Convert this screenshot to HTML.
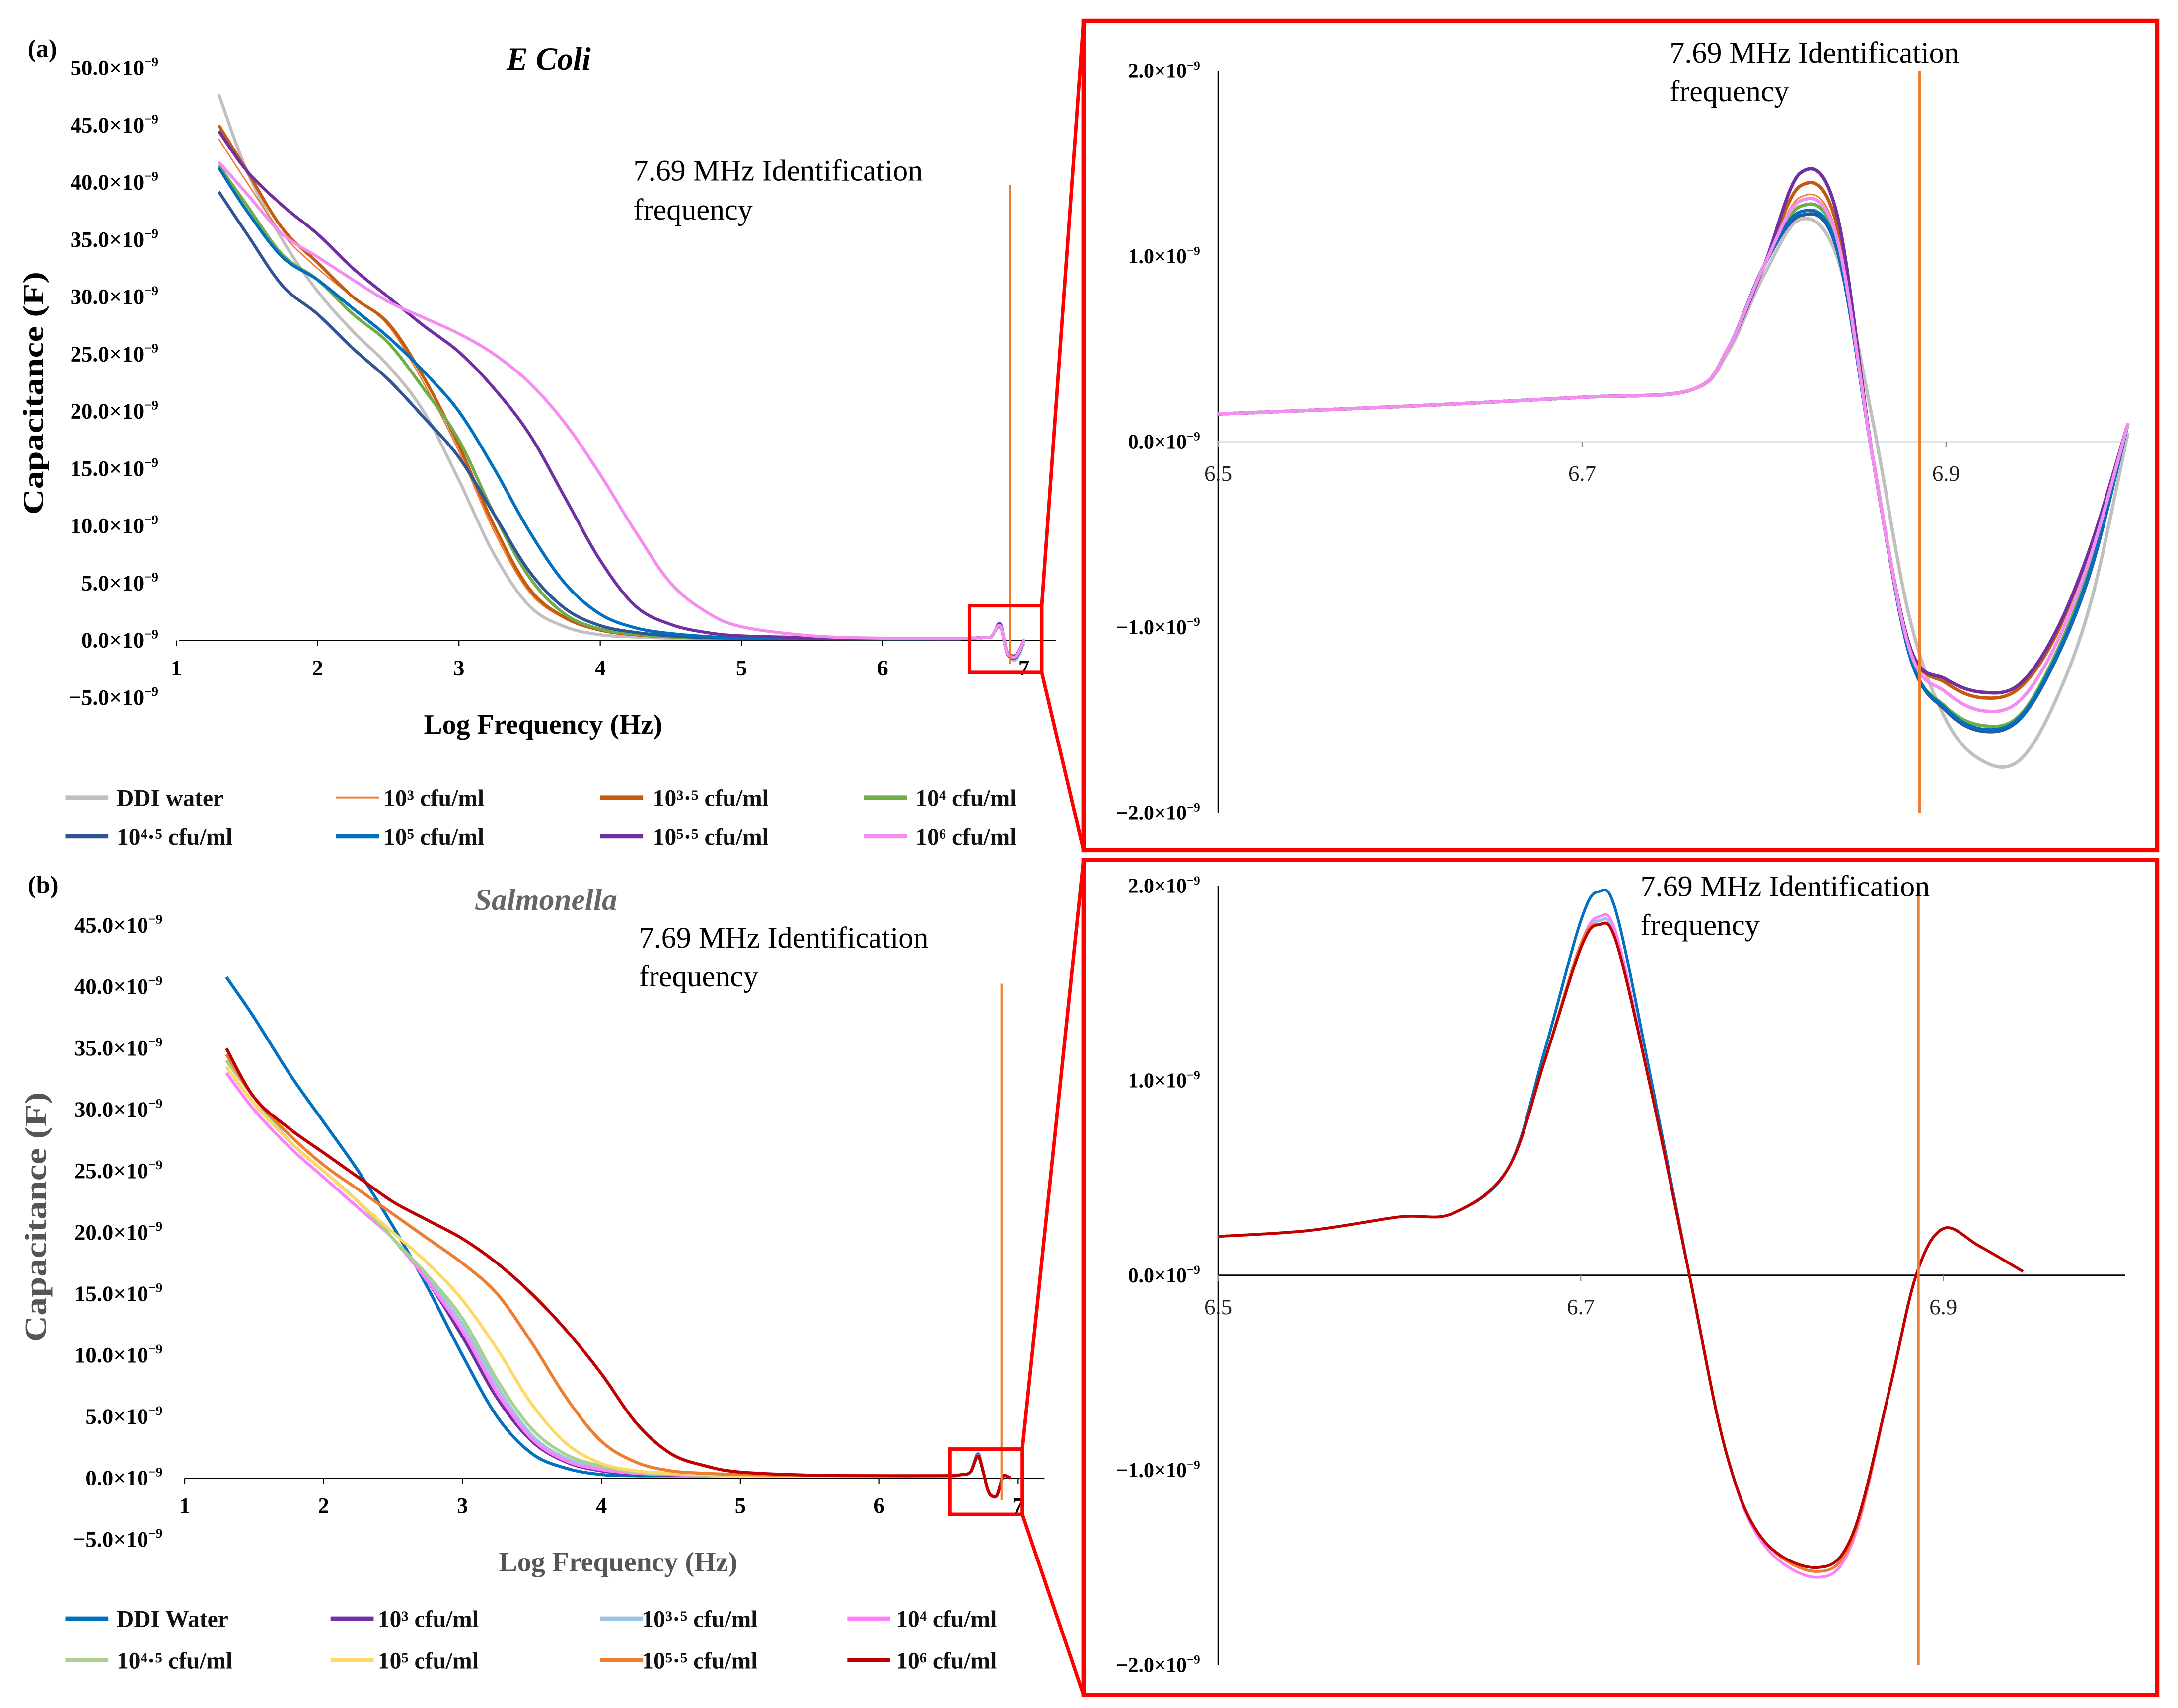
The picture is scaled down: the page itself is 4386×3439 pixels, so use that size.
<!DOCTYPE html>
<html><head><meta charset="utf-8"><style>
html,body{margin:0;padding:0;background:#fff}
svg{display:block}
text{font-family:"Liberation Serif",serif}
</style></head><body>
<svg id="fig" width="4386" height="3439" viewBox="0 0 1568 1229.4" preserveAspectRatio="none" xmlns="http://www.w3.org/2000/svg">
<g id="root"></g>
</svg>
<script>
// ---------- DATA ----------
const xsA = [1.3,1.5,1.75,2,2.25,2.5,2.75,3,3.25,3.5,3.75,4,4.25,4.5,4.75,5,5.5,6,6.5,6.6,6.7,6.76,6.78,6.8,6.82,6.84,6.86,6.88,6.9,6.92,6.94,6.96,6.98,7.0];
const ecoliNames = ["DDI water","10³ cfu/ml","10³·⁵ cfu/ml","10⁴ cfu/ml","10⁴·⁵ cfu/ml","10⁵ cfu/ml","10⁵·⁵ cfu/ml","10⁶ cfu/ml"];
const ecoliDDI   = [47.7,41,35,30.5,27,24,20,14,7.5,3,1.2,0.5,0.3,0.2,0.17,0.15,0.15,0.15,0.15,0.19,0.24,0.28,0.48,0.9,1.2,1.0,0.1,-0.95,-1.5,-1.72,-1.72,-1.4,-0.85,0.05];
const ecoli3     = [43.8,40,35.5,32.5,30,27.5,22.5,16.5,9.5,4.2,1.9,0.9,0.5,0.3,0.2,0.18,0.16,0.15,0.15,0.19,0.24,0.28,0.5,0.95,1.32,1.12,-0.1,-1.1,-1.3,-1.38,-1.33,-1.05,-0.55,0.1];
const ecoli35    = [45,41,36,33,30,27.7,23,17,10,4.5,2,0.9,0.5,0.3,0.2,0.18,0.16,0.15,0.15,0.19,0.24,0.28,0.5,0.95,1.38,1.17,-0.1,-1.1,-1.3,-1.38,-1.33,-1.05,-0.55,0.1];
const ecoli4     = [41.5,38,33.7,31.5,28.5,26,22,17.5,11,5.5,2.3,1.0,0.55,0.3,0.2,0.18,0.16,0.15,0.15,0.19,0.24,0.28,0.5,0.95,1.27,1.08,-0.1,-1.15,-1.43,-1.53,-1.48,-1.15,-0.65,0.1];
const ecoli45    = [39.2,35.5,31,28.5,25.5,22.8,19.5,16,11,6,2.8,1.3,0.7,0.4,0.25,0.2,0.16,0.15,0.15,0.19,0.24,0.28,0.5,0.95,1.22,1.04,-0.1,-1.15,-1.45,-1.56,-1.5,-1.18,-0.68,0.1];
const ecoli5     = [41.3,37.5,33.5,31.5,29,26.5,23.5,20,15,9.5,5,2.3,1.1,0.6,0.35,0.2,0.16,0.15,0.15,0.19,0.24,0.28,0.5,0.95,1.24,1.05,-0.1,-1.15,-1.44,-1.55,-1.49,-1.17,-0.67,0.1];
const ecoli55    = [44.5,41,38,35.5,32.5,30,27.5,25.2,22,18,12.5,7,3,1.4,0.7,0.4,0.25,0.18,0.15,0.19,0.24,0.28,0.5,0.95,1.45,1.23,-0.1,-1.1,-1.28,-1.35,-1.31,-1.03,-0.55,0.1];
const ecoli6     = [41.8,39,35.5,33.5,31.5,29.6,28.2,26.8,25,22.5,19,14.5,9.5,5,2.5,1.2,0.4,0.2,0.15,0.19,0.24,0.28,0.5,0.95,1.3,1.1,-0.1,-1.12,-1.35,-1.45,-1.4,-1.1,-0.6,0.1];
const ecoliSeries = [ecoliDDI,ecoli3,ecoli35,ecoli4,ecoli45,ecoli5,ecoli55,ecoli6];
const ecoliColors = ["#c0c0c0","#ed7d31","#c55a11","#70ad47","#2f5597","#0070c0","#7030a0","#f58cf0"];
const ecoliWidths = [2.2,1,2.2,2.2,2.2,2.2,2.2,2.2];

const xsB = [1.3,1.5,1.75,2,2.25,2.5,2.75,3,3.25,3.5,3.75,4,4.25,4.5,4.75,5,5.5,6,6.5,6.55,6.6,6.63,6.66,6.68,6.7,6.71,6.72,6.74,6.76,6.78,6.8,6.83,6.85,6.87,6.885,6.9,6.92,6.944];
const salNames = ["DDI Water","10³ cfu/ml","10³·⁵ cfu/ml","10⁴ cfu/ml","10⁴·⁵ cfu/ml","10⁵ cfu/ml","10⁵·⁵ cfu/ml","10⁶ cfu/ml"];
const salDDI = [40.8,37.5,33,29,25,20.5,15.5,10,5,2,0.8,0.3,0.2,0.2,0.2,0.2,0.2,0.2,0.2,0.23,0.3,0.32,0.55,1.15,1.82,1.97,1.85,0.95,0,-0.9,-1.35,-1.5,-1.33,-0.6,0,0.24,0.15,0.02];
const sal3   = [34,31,27.5,25,22.5,19.5,16,11.5,6.5,3,1.3,0.6,0.35,0.25,0.2,0.2,0.2,0.2,0.2,0.23,0.3,0.32,0.55,1.1,1.7,1.82,1.72,0.9,0,-0.9,-1.35,-1.52,-1.35,-0.6,0,0.24,0.15,0.02];
const sal35  = [33.5,30.5,27.5,25,22.5,19.5,16.3,12.5,7.5,3.5,1.6,0.8,0.45,0.3,0.22,0.2,0.2,0.2,0.2,0.23,0.3,0.32,0.55,1.1,1.7,1.82,1.72,0.9,0,-0.9,-1.35,-1.52,-1.35,-0.6,0,0.24,0.15,0.02];
const sal4   = [33,30,27,24.5,22,19.5,16,12,7,3.2,1.4,0.7,0.4,0.3,0.22,0.2,0.2,0.2,0.2,0.23,0.3,0.32,0.55,1.1,1.7,1.84,1.74,0.9,0,-0.9,-1.37,-1.55,-1.37,-0.6,0,0.24,0.15,0.02];
const sal45  = [34,31,27.5,25,22.5,19.5,16.5,13,8,4,1.9,1.0,0.5,0.35,0.25,0.2,0.2,0.2,0.2,0.23,0.3,0.32,0.55,1.1,1.7,1.8,1.7,0.9,0,-0.9,-1.35,-1.52,-1.35,-0.6,0,0.24,0.15,0.02];
const sal5   = [33.5,30.5,27.5,25,22.5,20,17.5,14.5,10.5,6,2.8,1.2,0.6,0.4,0.3,0.25,0.2,0.2,0.2,0.23,0.3,0.32,0.55,1.1,1.7,1.8,1.7,0.9,0,-0.9,-1.35,-1.52,-1.35,-0.6,0,0.24,0.15,0.02];
const sal55  = [34.5,31,28,25.5,23.5,21.5,19.5,17.5,15,11,6.5,3,1.3,0.6,0.4,0.3,0.22,0.2,0.2,0.23,0.3,0.32,0.55,1.1,1.7,1.8,1.7,0.9,0,-0.9,-1.35,-1.52,-1.35,-0.6,0,0.24,0.15,0.02];
const sal6   = [35,31,28.5,26.5,24.5,22.5,21,19.5,17.5,15,12,8.5,4.5,2,1,0.5,0.25,0.2,0.2,0.23,0.3,0.32,0.55,1.1,1.68,1.8,1.7,0.9,0,-0.9,-1.35,-1.5,-1.33,-0.6,0,0.24,0.15,0.02];
const salSeries = [salDDI,sal3,sal35,sal4,sal45,sal5,sal55,sal6];
const salColors = ["#0070c0","#7030a0","#9dc3e6","#ff80ff","#a9d18e","#ffd966","#ed7d31","#c00000"];

const mainTicksA = [50,45,40,35,30,25,20,15,10,5,0,-5];
const mainTicksB = [45,40,35,30,25,20,15,10,5,0,-5];
const xTicksMain = [1,2,3,4,5,6,7];
const zoomTicksY = [2,1,0,-1,-2];
const zoomTicksX = [6.5,6.7,6.9];

// ---------- HELPERS ----------
const NS="http://www.w3.org/2000/svg";
const root=document.getElementById('root');
function el(tag,attrs,parent,txt){const e=document.createElementNS(NS,tag);for(const k in attrs)e.setAttribute(k,attrs[k]);if(txt!==undefined)e.textContent=txt;(parent||root).appendChild(e);return e;}
function pathD(pts){if(pts.length<2)return"";let d="M"+pts[0][0].toFixed(2)+","+pts[0][1].toFixed(2);
 for(let i=0;i<pts.length-1;i++){const p0=pts[Math.max(0,i-1)],p1=pts[i],p2=pts[i+1],p3=pts[Math.min(pts.length-1,i+2)];
  const c1=[p1[0]+(p2[0]-p0[0])/6,p1[1]+(p2[1]-p0[1])/6],c2=[p2[0]-(p3[0]-p1[0])/6,p2[1]-(p3[1]-p1[1])/6];
  d+="C"+c1[0].toFixed(2)+","+c1[1].toFixed(2)+" "+c2[0].toFixed(2)+","+c2[1].toFixed(2)+" "+p2[0].toFixed(2)+","+p2[1].toFixed(2);}
 return d;}
function fmt(v){return (v<0?"−":"")+Math.abs(v).toFixed(1)+"×10";}
function yLabel(g,x,y,v,size,bold){const t=el('text',{x:x,y:y,'text-anchor':'end','font-size':size,'font-weight':bold?'bold':'normal',fill:'#000'},g);
 t.textContent=fmt(v);el('tspan',{'font-size':size*0.6,dy:-size*0.4},t,'−9');return t;}

// ---------- PANELS ----------
function mainPanel(cfg){
 const g=el('g',{});
 
 
 const sx=x=>cfg.x0+(x-1)*cfg.dx, sy=v=>cfg.y0-v*cfg.dy;
 const ax=el('line',{x1:cfg.axStart,y1:sy(0),x2:cfg.axEnd,y2:sy(0),stroke:'#000','stroke-width':0.8},g);
 
 
 cfg.yticks.forEach(v=>{const t=yLabel(g,cfg.ylabX,sy(v)+5,v,16,true);
  
  });
 xTicksMain.forEach(v=>{el('line',{x1:sx(v),y1:sy(0),x2:sx(v),y2:sy(0)+4,stroke:'#000','stroke-width':0.8},g);
  const t=el('text',{x:sx(v),y:sy(0)+25,'text-anchor':'middle','font-size':16,'font-weight':'bold'},g,String(v));
  
  });
 cfg.series.forEach((s,i)=>{const pts=cfg.xs.map((x,j)=>[sx(x),sy(s[j])]);
  const p=el('path',{d:pathD(pts),fill:'none',stroke:cfg.colors[i],'stroke-width':cfg.widths?cfg.widths[i]:2.2},g);
  
  });
 return {g,sx,sy};
}
function zoomPanel(cfg){
 const g=el('g',{});
 
 
 const sx=x=>877+(x-6.5)*cfg.dx, sy=v=>cfg.y0-v*cfg.dy;
 const yl=el('line',{x1:877,y1:sy(2),x2:877,y2:sy(-2),stroke:'#000','stroke-width':1},g);
 
 
 const xl=el('line',{x1:877,y1:sy(0),x2:1530,y2:sy(0),stroke:cfg.zeroColor,'stroke-width':1.2},g);
 
 
 zoomTicksY.forEach(v=>{const t=yLabel(g,864,sy(v)+5,v,15,true);
  
  });
 zoomTicksX.forEach(v=>{el('line',{x1:sx(v),y1:sy(0),x2:sx(v),y2:sy(0)+4,stroke:'#888','stroke-width':0.8},g);
  const t=el('text',{x:sx(v),y:sy(0)+28,'text-anchor':'middle','font-size':16,fill:'#222'},g,v.toFixed(1));
  
  });
 cfg.series.forEach((s,i)=>{const pts=[];cfg.xs.forEach((x,j)=>{if(x>=6.5)pts.push([sx(x),sy(s[j])]);});
  const p=el('path',{d:pathD(pts),fill:'none',stroke:cfg.colors[i],'stroke-width':cfg.widths?cfg.widths[i]*1.1:2},g);
  
  });
 const o=el('line',{x1:cfg.ox,y1:sy(2),x2:cfg.ox,y2:sy(-2),stroke:'#ed7d31','stroke-width':2},g);
 
 
}
function legend(names,colors,widths,rowsY,lineX,textX){
 names.forEach((n,i)=>{const r=Math.floor(i/4),c=i%4;const y=rowsY[r];
  const l=el('line',{x1:lineX[c],y1:y,x2:lineX[c]+31,y2:y,stroke:colors[i],'stroke-width':widths?widths[i]*1.4:3});
  
  
  const t=el('text',{x:textX[c],y:y+6,'font-size':17,'font-weight':'bold',fill:'#111'},root,n);
  
  });
}
function txt(x,y,s,attrs,name){const t=el('text',Object.assign({x:x,y:y},attrs),root,s);
 
 return t;}
function ln(x1,y1,x2,y2,c,w,name){const l=el('line',{x1,y1,x2,y2,stroke:c,'stroke-width':w});
 
 return l;}

// ----- Panel A -----
mainPanel({name:'ecoli-chart',x0:127,dx:101.7,y0:461,dy:8.24,axStart:129,axEnd:760,ylabX:114,yticks:mainTicksA,xs:xsA,series:ecoliSeries,colors:ecoliColors,widths:ecoliWidths});
ln(727,133,727,478,'#ed7d31',1.5,'identification-frequency-line');
txt(20,41,'(a)',{'font-size':18,'font-weight':'bold','font-family':'Liberation Sans, sans-serif'},'panel-label-a');
txt(395,50,'E Coli',{'font-size':23,'font-weight':'bold','font-style':'italic','text-anchor':'middle'},'chart-title-ecoli');
txt(456,130,'7.69 MHz Identification',{'font-size':21.5},'annotation-text');
txt(456,158,'frequency',{'font-size':21.5},'annotation-text');
txt(391,528,'Log Frequency (Hz)',{'font-size':20,'font-weight':'bold','text-anchor':'middle'},'x-axis-title');
txt(0,0,'Capacitance (F)',{'font-size':21,'font-weight':'bold','text-anchor':'middle',textLength:175,lengthAdjust:'spacingAndGlyphs',transform:'translate(31,283) rotate(-90)'},'y-axis-title');
legend(ecoliNames,ecoliColors,ecoliWidths,[574,602],[47,242,432,622],[84,276,470,659]);

// ----- Panel B -----
mainPanel({name:'salmonella-chart',x0:133,dx:100,y0:1064,dy:8.84,axStart:133,axEnd:752,ylabX:117,yticks:mainTicksB,xs:xsB,series:salSeries,colors:salColors});
ln(721,708,721,1080,'#ed7d31',1.5,'identification-frequency-line');
txt(20,643,'(b)',{'font-size':18,'font-weight':'bold','font-family':'Liberation Sans, sans-serif'},'panel-label-b');
txt(393,655,'Salmonella',{'font-size':22,'font-weight':'bold','font-style':'italic','text-anchor':'middle',fill:'#666'},'chart-title-salmonella');
txt(460,682,'7.69 MHz Identification',{'font-size':21.5},'annotation-text');
txt(460,710,'frequency',{'font-size':21.5},'annotation-text');
txt(445,1131,'Log Frequency (Hz)',{'font-size':20,'font-weight':'bold','text-anchor':'middle',fill:'#555'},'x-axis-title');
txt(0,0,'Capacitance (F)',{'font-size':22,'font-weight':'bold','text-anchor':'middle',fill:'#555',textLength:180,lengthAdjust:'spacingAndGlyphs',transform:'translate(33,876) rotate(-90)'},'y-axis-title');
legend(salNames,salColors,null,[1165,1195],[47,238,432,610],[84,272,462,645]);

// ----- Zoom panels -----
zoomPanel({name:'ecoli-zoom-chart',dx:1310,y0:318,dy:133.5,xs:xsA,series:ecoliSeries,colors:ecoliColors,widths:ecoliWidths,zeroColor:'#dce6f2',ox:1382});
txt(1202,45,'7.69 MHz Identification',{'font-size':21.5},'annotation-text');
txt(1202,73,'frequency',{'font-size':21.5},'annotation-text');
zoomPanel({name:'salmonella-zoom-chart',dx:1305,y0:918,dy:140.2,xs:xsB,series:salSeries,colors:salColors,zeroColor:'#000',ox:1381});
txt(1181,645,'7.69 MHz Identification',{'font-size':21.5},'annotation-text');
txt(1181,673,'frequency',{'font-size':21.5},'annotation-text');

// ----- Red boxes & connectors -----
function rect(x,y,w,h,sw,name){const r=el('rect',{x,y,width:w,height:h,fill:'none',stroke:'#f00','stroke-width':sw});
 
 }
rect(698,436,52,48,2.5,'zoom-region-box-a');
rect(780,15,773,597,3,'zoom-panel-frame-a');
ln(750,436,780,15,'#f00',2.5,'zoom-connector');
ln(750,484,780,612,'#f00',2.5,'zoom-connector');
rect(684,1043,52,47,2.5,'zoom-region-box-b');
rect(780,619,773,601,3,'zoom-panel-frame-b');
ln(736,1043,780,619,'#f00',2.5,'zoom-connector');
ln(736,1090,780,1220,'#f00',2.5,'zoom-connector');
</script>
</body></html>
